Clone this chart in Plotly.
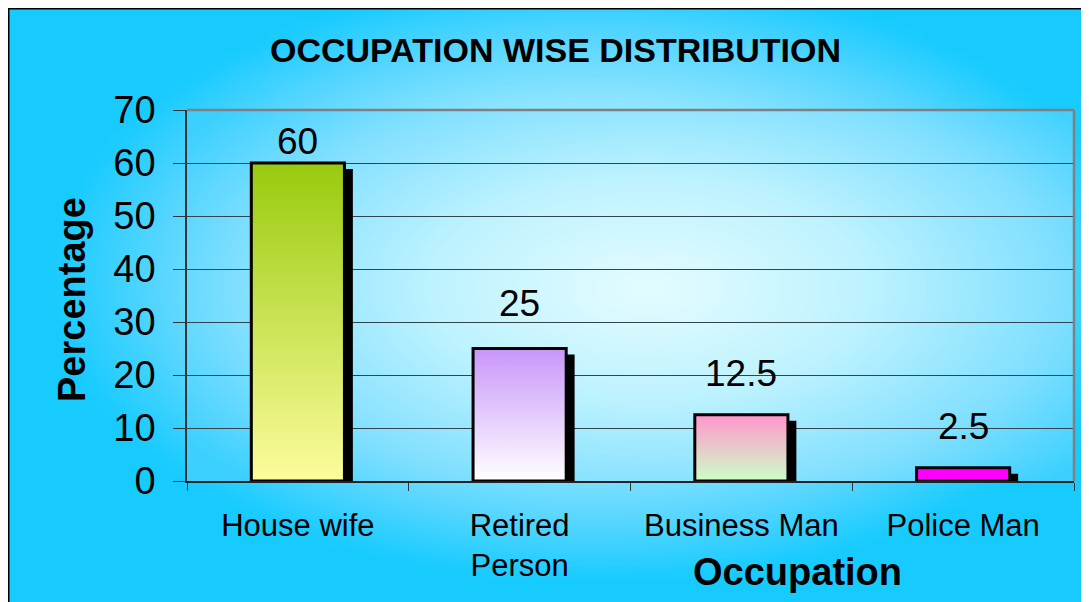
import numpy as np
import plotly.graph_objects as go

# ---------------- data ----------------
categories = ["House wife", "Retired<br>Person", "Business Man", "Police Man"]
percentages = [60, 25, 12.5, 2.5]
value_labels = ["60", "25", "12.5", "2.5"]
y_ticks = [0, 10, 20, 30, 40, 50, 60, 70]

# ---------------- styles ----------------
bar_gradients = [
    [[0, "#FDFC9C"], [1, "#98CA0E"]],
    [[0, "#FFFFFF"], [1, "#C896FA"]],
    [[0, "#CCFFC6"], [1, "#FF96CC"]],
    [[0, "#FF00FF"], [1, "#FF00FF"]],
]
label_shift = [22, 45, 41, 41]
BAR_W = 0.42
SHADOW_DX = 0.038
SHADOW_DY = 1.15
FONT = "Arial, 'Liberation Sans', sans-serif"
W, H = 1089, 602
OFF = 8  # page margin around the figure


def fx(px):
    return (px - OFF) / W


def fy(py):
    return (H - (py - OFF)) / H


fig = go.Figure()

# ---------- background gradients (decoration) ----------
def radial(cx, cy, rx, ry, nx=90, ny=60):
    gx = np.linspace(0, 1, nx)
    gy = np.linspace(0, 1, ny)
    X, Y = np.meshgrid(gx, gy)
    Z = np.sqrt(((X - cx) / rx) ** 2 + ((Y - cy) / ry) ** 2)
    return gx, gy, np.clip(Z, 0, 1)

bg_scale = [[0, "#E2FCFF"], [0.3, "#C2F4FF"], [0.6, "#8CE4FF"],
            [0.8, "#58D6FF"], [1, "#18CBFF"]]
gx, gy, gz = radial(0.54, 0.55, 0.50, 0.50)
fig.add_trace(go.Heatmap(x=gx, y=gy, z=gz, colorscale=bg_scale, zmin=0, zmax=1,
                         showscale=False, zsmooth="best", hoverinfo="skip",
                         xaxis="x", yaxis="y"))

pa_scale = [[0, "#E4FCFF"], [0.4, "#BDF2FF"], [0.75, "#80DFFF"], [1, "#3CD0FF"]]
px_, py_, pz_ = radial(0.52, 0.52, 0.62, 0.75)
fig.add_trace(go.Heatmap(x=px_, y=py_, z=pz_, colorscale=pa_scale, zmin=0, zmax=1,
                         showscale=False, zsmooth="best", hoverinfo="skip",
                         xaxis="x2", yaxis="y2"))

# ---------- bar shadows ----------
idx = list(range(len(categories)))
fig.add_trace(go.Bar(x=idx, y=percentages, base=[-SHADOW_DY] * len(idx),
                     width=BAR_W, offset=-BAR_W / 2 + SHADOW_DX,
                     marker=dict(color="black", line=dict(width=0)),
                     hoverinfo="skip", showlegend=False,
                     xaxis="x3", yaxis="y3"))

# ---------- gradient bars ----------
for i, v in enumerate(percentages):
    xs = [i - BAR_W / 2, i + BAR_W / 2, i + BAR_W / 2, i - BAR_W / 2, i - BAR_W / 2]
    ys = [0, 0, v, v, 0]
    fig.add_trace(go.Scatter(x=xs, y=ys, mode="lines", fill="toself",
                             fillgradient=dict(type="vertical", colorscale=bar_gradients[i]),
                             line=dict(color="black", width=3),
                             hoverinfo="skip", showlegend=False,
                             xaxis="x3", yaxis="y3"))

# ---------- value labels ----------
for i, (v, t) in enumerate(zip(percentages, value_labels)):
    fig.add_annotation(x=i, y=v, xref="x3", yref="y3", text=t, showarrow=False,
                       yanchor="middle", yshift=label_shift[i],
                       font=dict(family=FONT, size=37, color="black"))

x0d, x1d = fx(187), fx(1074)
y0d, y1d = fy(481), fy(110)

fig.update_layout(
    width=W, height=H, autosize=False,
    margin=dict(l=0, r=0, t=0, b=0, pad=0, autoexpand=False),
    paper_bgcolor="white",
    plot_bgcolor="rgba(0,0,0,0)",
    showlegend=False,
    xaxis=dict(domain=[0, 1], range=[0, 1], visible=False, fixedrange=True),
    yaxis=dict(domain=[0, 1], range=[0, 1], visible=False, fixedrange=True),
    xaxis2=dict(domain=[x0d, x1d], range=[0, 1], visible=False, anchor="y2"),
    yaxis2=dict(domain=[y0d, y1d], range=[0, 1], visible=False, anchor="x2"),
    xaxis3=dict(domain=[x0d, x1d], range=[-0.5, len(categories) - 0.5], anchor="y3",
                tickmode="array", tickvals=idx, ticktext=categories, ticks="",
                showgrid=False, zeroline=False, showline=True, linecolor="#222",
                linewidth=1.5, automargin=False, ticklabelstandoff=16,
                minor=dict(tickmode="array",
                           tickvals=[i - 0.5 for i in range(len(categories) + 1)],
                           ticks="outside", ticklen=8, tickcolor="#333",
                           tickwidth=1, showgrid=False),
                tickfont=dict(family=FONT, size=31, color="black")),
    yaxis3=dict(domain=[y0d, y1d], range=[0, 70], anchor="x3",
                tickmode="array", tickvals=y_ticks, automargin=False,
                ticks="outside", ticklen=12, tickcolor="#333", tickwidth=1,
                ticklabelstandoff=10,
                showgrid=True, gridcolor="#34444e", gridwidth=1, zeroline=False,
                showline=True, linecolor="#333", linewidth=1.5,
                tickfont=dict(family=FONT, size=38, color="black")),
    shapes=[
        # plot-area frame: gray on top and right
        dict(type="line", xref="paper", yref="paper", x0=x0d, x1=x1d, y0=y1d, y1=y1d,
             line=dict(color="#808080", width=2.5), layer="above"),
        dict(type="line", xref="paper", yref="paper", x0=x1d, x1=x1d, y0=y0d, y1=y1d,
             line=dict(color="#808080", width=2.5), layer="above"),
        # outer chart border
        dict(type="rect", xref="paper", yref="paper", x0=0.75 / W, x1=1.01,
             y0=-0.01, y1=1 - 0.75 / H, line=dict(color="black", width=1.5),
             layer="above"),
    ],
)

fig.add_annotation(x=fx(555), y=fy(50), xref="paper", yref="paper",
                   text="<b>OCCUPATION WISE DISTRIBUTION</b>", showarrow=False,
                   xanchor="center", yanchor="middle",
                   font=dict(family=FONT, size=34, color="black"))
fig.add_annotation(x=fx(72), y=fy(300), xref="paper", yref="paper",
                   text="<b>Percentage</b>", showarrow=False, textangle=-90,
                   xanchor="center", yanchor="middle",
                   font=dict(family=FONT, size=38, color="black"))
fig.add_annotation(x=fx(797), y=fy(572), xref="paper", yref="paper",
                   text="<b>Occupation</b>", showarrow=False,
                   xanchor="center", yanchor="middle",
                   font=dict(family=FONT, size=38, color="black"))

fig.write_html("out.html")
